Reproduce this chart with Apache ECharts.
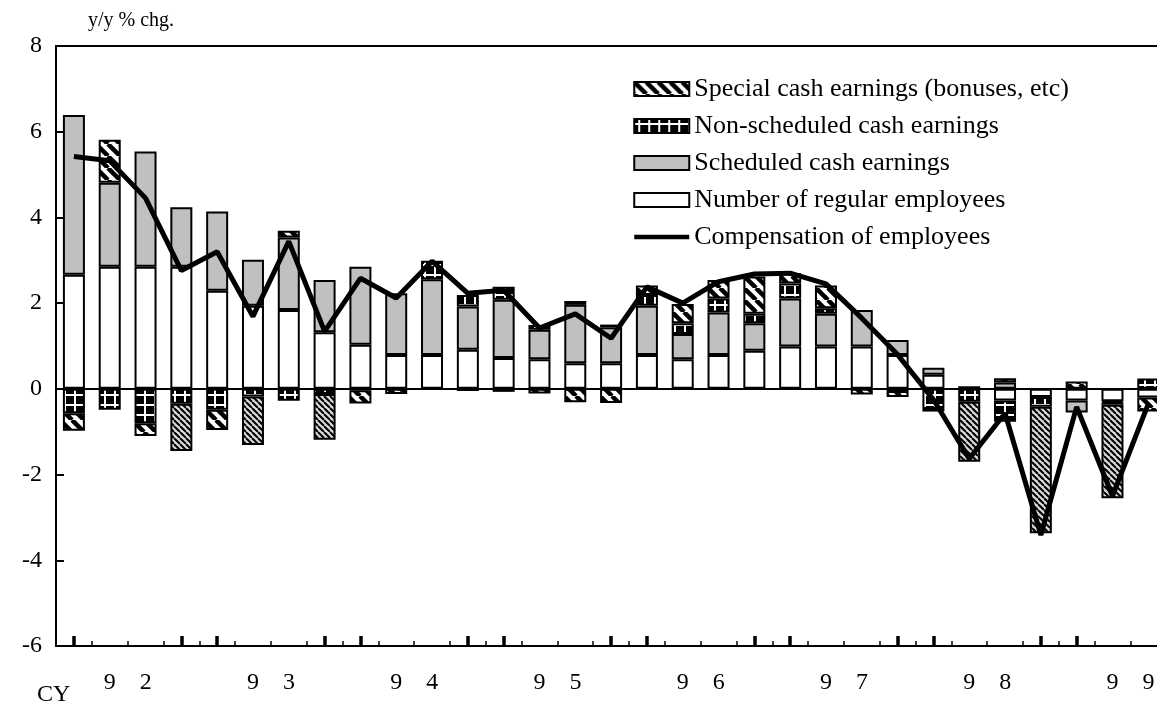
<!DOCTYPE html>
<html>
<head>
<meta charset="utf-8">
<script src="https://cdn.jsdelivr.net/npm/echarts@6/dist/echarts.min.js"></script>
<style>
  html, body { margin: 0; padding: 0; background: #fff; }
  #chart { width: 1157px; height: 707px; }
</style>
</head>
<body>
<div id="chart"></div>
<script>
// years shown under the axis, 4 quarters each (1992Q1 .. 1999Q4)
const years = ['92', '93', '94', '95', '96', '97', '98', '99']
const quarters = []
years.forEach(y => { for (let q = 1; q <= 4; q++) quarters.push(y + 'Q' + q) })

// y/y % chg. contributions
const employees = [2.66, 2.85, 2.85, 2.85, 2.29, 1.94, 1.84, 1.32, 1.03, 0.79, 0.79, 0.91, 0.72, 0.69, 0.60, 0.60,
  0.79, 0.69, 0.79, 0.89, 0.99, 0.99, 0.99, 0.79, 0.33, 0.06, -0.27, -0.19, -0.27, -0.29, -0.20, null]
const scheduled = [3.73, 1.96, 2.69, 1.39, 1.85, 1.07, 1.69, 1.22, 1.82, 1.44, 1.77, 1.01, 1.36, 0.69, 1.36, 0.84,
  1.15, 0.59, 0.99, 0.64, 1.12, 0.76, 0.85, 0.35, 0.16, null, 0.15, null, -0.28, -0.03, null, null]
const nonScheduled = [-0.57, -0.49, -0.80, -0.35, -0.49, -0.18, -0.28, -0.12, -0.03, null, 0.43, 0.27, 0.30, 0.11, 0.09, 0.06,
  0.25, 0.25, 0.33, 0.22, 0.35, 0.13, null, -0.05, -0.47, -0.30, -0.50, -0.23, null, -0.05, 0.24, null]
const special = [-0.41, 1.00, -0.30, -1.10, -0.47, -1.13, 0.16, -1.07, -0.31, -0.12, null, -0.05, -0.07, -0.11, -0.31, -0.33,
  0.22, 0.45, 0.43, 0.87, 0.24, 0.53, -0.13, -0.14, -0.06, -1.40, 0.10, -2.95, 0.17, -2.18, -0.33, null]
const compensation = [5.42, 5.32, 4.45, 2.76, 3.20, 1.69, 3.44, 1.34, 2.58, 2.12, 2.98, 2.23, 2.30, 1.42, 1.75, 1.18,
  2.38, 2.00, 2.50, 2.68, 2.70, 2.45, 1.65, 0.80, -0.25, -1.63, -0.57, -3.41, -0.42, -2.50, -0.35, null]

const serif = 'Liberation Serif'

// fill patterns
function stripes (size, lineW, bg) {
  const c = document.createElement('canvas')
  c.width = c.height = size
  const g = c.getContext('2d')
  g.fillStyle = bg
  g.fillRect(0, 0, size, size)
  g.strokeStyle = '#000'
  g.lineWidth = lineW
  for (const o of [-size, 0, size]) {
    g.beginPath()
    g.moveTo(o, 0)
    g.lineTo(o + size, size)
    g.stroke()
  }
  return { image: c, repeat: 'repeat' }
}
function cross (size) {
  const c = document.createElement('canvas')
  c.width = c.height = size
  const g = c.getContext('2d')
  g.fillStyle = '#000'
  g.fillRect(0, 0, size, size)
  g.fillStyle = '#fff'
  g.fillRect(0, size / 2 - 1, size, 2)
  g.fillRect(size / 2 - 1, 0, 2, size)
  return { image: c, repeat: 'repeat' }
}
const coarseStripe = stripes(12, 4.5, '#fff')
const fineStripe = stripes(6, 2, '#d8d8d8')
const crossFill = cross(10)

const barBase = {
  type: 'bar',
  stack: 'total',
  barWidth: 22,
  xAxisIndex: 0,
  yAxisIndex: 0
}

const chart = echarts.init(document.getElementById('chart'))
chart.setOption({
  animation: false,
  backgroundColor: '#fff',
  grid: { left: 56, top: 46, width: 1146, height: 600, outerBoundsMode: 'none', containLabel: false },
  legend: {
    orient: 'vertical',
    left: 627,
    top: 71,
    itemWidth: 55,
    itemHeight: 14,
    itemGap: 11,
    selectedMode: false,
    textStyle: { fontFamily: serif, fontSize: 26, color: '#000' },
    data: [
      { name: 'Special cash earnings (bonuses, etc)', icon: 'rect' },
      { name: 'Non-scheduled cash earnings', icon: 'rect' },
      { name: 'Scheduled cash earnings', icon: 'rect' },
      { name: 'Number of regular employees', icon: 'rect' },
      {
        name: 'Compensation of employees',
        itemStyle: { color: 'rgba(0,0,0,0)', borderColor: 'rgba(0,0,0,0)', opacity: 0 },
        lineStyle: { color: '#000', width: 4.5 }
      }
    ]
  },
  graphic: [
    { type: 'text', left: 88, top: 11, style: { text: 'y/y % chg.', font: '20px "Liberation Serif"', fill: '#000' } },
    { type: 'text', left: 37, top: 683, style: { text: 'CY', font: '24px "Liberation Serif"', fill: '#000' } }
  ],
  xAxis: [
    {
      type: 'category',
      data: quarters,
      position: 'bottom',
      axisLine: { show: true, onZero: false, lineStyle: { color: '#000', width: 2 } },
      axisTick: { show: true, inside: true, length: 5, interval: 0, lineStyle: { color: '#000', width: 1.5 } },
      axisLabel: { show: false }
    },
    {
      type: 'category',
      data: quarters,
      position: 'bottom',
      axisLine: { show: false, onZero: false },
      axisTick: {
        show: true,
        inside: true,
        alignWithLabel: true,
        length: 10,
        interval: (i) => i % 4 === 0 || i % 4 === 3,
        lineStyle: { color: '#000', width: 3.5 }
      },
      axisLabel: { show: false }
    },
    {
      type: 'category',
      data: years,
      position: 'bottom',
      axisLine: { show: false, onZero: false },
      axisTick: { show: false },
      axisLabel: {
        margin: 25,
        fontFamily: serif,
        fontSize: 24,
        color: '#000',
        formatter: (v) => v.split('').join('    ')
      }
    },
    {
      // top frame line
      type: 'category',
      data: quarters,
      position: 'top',
      axisLine: { show: true, onZero: false, lineStyle: { color: '#000', width: 2 } },
      axisTick: { show: false },
      axisLabel: { show: false }
    }
  ],
  yAxis: [
    {
      type: 'value',
      min: -6,
      max: 8,
      interval: 2,
      position: 'left',
      axisLine: { show: true, onZero: false, lineStyle: { color: '#000', width: 2 } },
      axisTick: { show: false },
      splitLine: { show: false },
      axisLabel: { fontFamily: serif, fontSize: 24, color: '#000', margin: 14 }
    },
    {
      // inward tick marks: a right-hand axis moved onto the left edge
      type: 'value',
      min: -6,
      max: 8,
      interval: 2,
      position: 'right',
      offset: -1146,
      axisLine: { show: false, onZero: false },
      axisTick: { show: true, inside: false, length: 8, lineStyle: { color: '#000', width: 2 } },
      splitLine: { show: false },
      axisLabel: { show: false }
    }
  ],
  series: [
    Object.assign({}, barBase, {
      name: 'Number of regular employees',
      data: employees,
      itemStyle: { color: '#fff', borderColor: '#000', borderWidth: 2 },
      markLine: {
        silent: true,
        symbol: 'none',
        label: { show: false },
        lineStyle: { color: '#000', width: 2, type: 'solid' },
        data: [{ yAxis: 0 }]
      }
    }),
    Object.assign({}, barBase, {
      name: 'Scheduled cash earnings',
      data: scheduled,
      itemStyle: { color: '#c0c0c0', borderColor: '#000', borderWidth: 2 }
    }),
    Object.assign({}, barBase, {
      name: 'Non-scheduled cash earnings',
      data: nonScheduled,
      itemStyle: { color: crossFill, borderColor: '#000', borderWidth: 2 }
    }),
    Object.assign({}, barBase, {
      name: 'Special cash earnings (bonuses, etc)',
      data: special.map(v => v == null ? null : {
        value: v,
        itemStyle: { color: Math.abs(v) > 1.05 ? fineStripe : coarseStripe }
      }),
      itemStyle: { color: coarseStripe, borderColor: '#000', borderWidth: 2 }
    }),
    {
      name: 'Compensation of employees',
      type: 'line',
      data: compensation,
      symbol: 'none',
      z: 5,
      xAxisIndex: 0,
      yAxisIndex: 0,
      lineStyle: { color: '#000', width: 5 },
      itemStyle: { color: '#000' }
    }
  ]
})
</script>
</body>
</html>
